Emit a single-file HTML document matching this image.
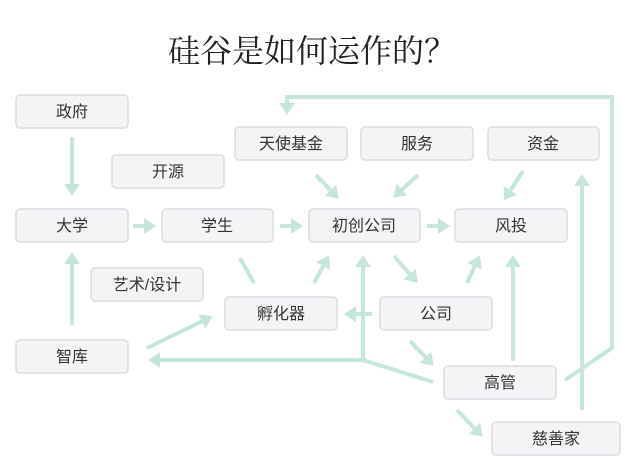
<!DOCTYPE html>
<html><head><meta charset="utf-8"><style>
html,body{margin:0;padding:0;background:#fff;width:640px;height:469px;overflow:hidden}
svg{display:block}
text{font-family:"Liberation Sans","Noto Sans CJK SC",sans-serif;fill:#333}
</style></head><body>
<svg width="640" height="469" viewBox="0 0 640 469">
<defs>
<marker id="a" markerWidth="4" markerHeight="4" refX="2" refY="2" orient="auto" markerUnits="strokeWidth">
<path d="M0,0 L3,2 L0,4 z" fill="#c6e6da"/></marker>
</defs>
<text x="312" y="62" text-anchor="middle" font-size="32" style="font-family:'Liberation Serif','Noto Serif CJK SC',serif;font-weight:400;fill:#222">硅谷是如何运作的？</text>
<g stroke="#c6e6da" stroke-width="4" fill="none">
<line x1="72" y1="137" x2="72" y2="192" marker-end="url(#a)"/>
<line x1="72" y1="325" x2="72" y2="256" marker-end="url(#a)"/>
<line x1="133" y1="226" x2="152" y2="226" marker-end="url(#a)"/>
<line x1="280" y1="226" x2="299" y2="226" marker-end="url(#a)"/>
<line x1="427" y1="226" x2="446" y2="226" marker-end="url(#a)"/>
<line x1="316" y1="175" x2="336" y2="196" marker-end="url(#a)"/>
<line x1="418" y1="175" x2="396" y2="195" marker-end="url(#a)"/>
<line x1="523" y1="171" x2="506" y2="197" marker-end="url(#a)"/>
<line x1="254" y1="283" x2="240" y2="258"/>
<line x1="314" y1="283" x2="327" y2="259" marker-end="url(#a)"/>
<line x1="394" y1="256" x2="415" y2="280" marker-end="url(#a)"/>
<line x1="467" y1="283" x2="478" y2="259" marker-end="url(#a)"/>
<line x1="372" y1="314" x2="348" y2="314" marker-end="url(#a)"/>
<line x1="147" y1="348" x2="209" y2="318" marker-end="url(#a)"/>
<polyline points="433,382 363,360 152,360" marker-end="url(#a)"/>
<line x1="363" y1="360" x2="363" y2="259" marker-end="url(#a)"/>
<line x1="410" y1="341" x2="431" y2="363" marker-end="url(#a)"/>
<line x1="513" y1="361" x2="513" y2="259" marker-end="url(#a)"/>
<polyline points="565,380 612,348 612,97 287,97 287,111" marker-end="url(#a)"/>
<line x1="582" y1="410" x2="582" y2="178" marker-end="url(#a)"/>
<line x1="457" y1="410" x2="480" y2="434" marker-end="url(#a)"/>
</g>
<g fill="#f4f4f6" stroke="#dcdce0" stroke-width="1.5">
<rect x="16" y="95" width="112" height="33" rx="4"/>
<rect x="235" y="127" width="112" height="33" rx="4"/>
<rect x="361" y="127" width="112" height="33" rx="4"/>
<rect x="488" y="127" width="111" height="33" rx="4"/>
<rect x="112" y="155" width="112" height="33" rx="4"/>
<rect x="16" y="209" width="112" height="33" rx="4"/>
<rect x="162" y="209" width="111" height="33" rx="4"/>
<rect x="309" y="209" width="111" height="33" rx="4"/>
<rect x="455" y="209" width="112" height="33" rx="4"/>
<rect x="91" y="268" width="112" height="33" rx="4"/>
<rect x="225" y="297" width="112" height="33" rx="4"/>
<rect x="380" y="297" width="112" height="33" rx="4"/>
<rect x="16" y="340" width="112" height="33" rx="4"/>
<rect x="444" y="366" width="112" height="33" rx="4"/>
<rect x="492" y="422" width="128" height="33" rx="4"/>
</g>
<g font-size="16" text-anchor="middle">
<text x="72" y="117">政府</text>
<text x="291" y="149">天使基金</text>
<text x="417" y="149">服务</text>
<text x="543" y="149">资金</text>
<text x="168" y="177">开源</text>
<text x="72" y="231">大学</text>
<text x="217" y="231">学生</text>
<text x="364" y="231">初创公司</text>
<text x="511" y="231">风投</text>
<text x="147" y="290">艺术/设计</text>
<text x="281" y="319">孵化器</text>
<text x="436" y="319">公司</text>
<text x="72" y="362">智库</text>
<text x="500" y="388">高管</text>
<text x="556" y="444">慈善家</text>
</g>
</svg>
</body></html>
